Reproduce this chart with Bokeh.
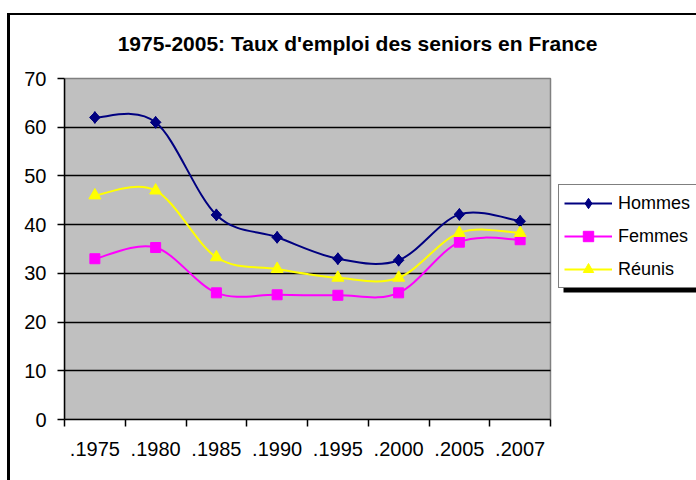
import numpy as np
from bokeh.plotting import figure
from bokeh.layouts import column, row
from bokeh.models import (Range1d, FixedTicker, Legend, LegendItem, Label,
                          BoxAnnotation, ColumnDataSource, Spacer)
from bokeh.embed import file_html
from bokeh.resources import INLINE

# ---- data ----
categories = [".1975", ".1980", ".1985", ".1990", ".1995", ".2000", ".2005", ".2007"]
hommes = [62.0, 61.0, 42.0, 37.4, 33.0, 32.7, 42.1, 40.7]
femmes = [33.0, 35.3, 26.0, 25.6, 25.5, 26.0, 36.4, 36.9]
reunis = [46.0, 47.0, 33.3, 30.9, 29.1, 29.1, 38.3, 38.3]
series_names = ["Hommes", "Femmes", "Réunis"]
y_ticks = [0, 10, 20, 30, 40, 50, 60, 70]
title_text = "1975-2005: Taux d'emploi des seniors en France"

FONT = "Liberation Sans"
W, H = 686, 465    # figure size
ML = 54            # left axis panel
FRAME_H = 404      # frame height (top of figure to x axis)
MB = H - FRAME_H
PLOT_TOP = 63      # top of the grey plot area inside the figure
PLOT_W = 486       # width of the grey plot area
FRAME_W = W - ML
n = len(categories)
y_max = y_ticks[-1]
x_end = n * FRAME_W / PLOT_W
y_end = y_max * FRAME_H / (FRAME_H - PLOT_TOP)

p = figure(width=W, height=H, output_backend="svg", toolbar_location=None,
           x_range=Range1d(0, x_end), y_range=Range1d(0, y_end),
           min_border_left=ML, min_border_right=0,
           min_border_top=0, min_border_bottom=MB)
p.background_fill_color = "white"
p.border_fill_color = "white"
p.outline_line_color = None

# grey plot area
p.quad(left=0, right=n, bottom=0, top=y_max, fill_color="#C0C0C0",
       line_color="#808080", line_width=1.5, level="image")

# x axis: labels centred in categories, ticks on boundaries
centers = [i + 0.5 for i in range(n)]
bounds = [float(i) for i in range(n + 1)]
p.xaxis.bounds = (0, n)
p.xaxis.ticker = FixedTicker(ticks=centers, minor_ticks=bounds)
p.xaxis.major_label_overrides = {c: lab for c, lab in zip(centers, categories)}
p.xaxis.major_tick_line_color = None
p.xaxis.major_tick_out = 0
p.xaxis.major_tick_in = 0
p.xaxis.minor_tick_line_color = "black"
p.xaxis.minor_tick_line_width = 1.5
p.xaxis.minor_tick_out = 7
p.xaxis.minor_tick_in = 0
p.xaxis.major_label_standoff = 15
p.xaxis.axis_line_color = "black"
p.xaxis.axis_line_width = 1.5
p.xaxis.major_label_text_font = FONT
p.xaxis.major_label_text_font_size = "20px"
p.xaxis.major_label_text_color = "black"

p.yaxis.bounds = (0, y_max)
p.yaxis.ticker = FixedTicker(ticks=y_ticks)
p.yaxis.minor_tick_line_color = None
p.yaxis.major_tick_out = 7
p.yaxis.major_tick_in = 0
p.yaxis.major_tick_line_color = "black"
p.yaxis.major_tick_line_width = 1.5
p.yaxis.axis_line_color = "black"
p.yaxis.axis_line_width = 1.5
p.yaxis.major_label_standoff = 11
p.yaxis.major_label_text_font = FONT
p.yaxis.major_label_text_font_size = "20px"
p.yaxis.major_label_text_color = "black"

p.xgrid.grid_line_color = None
p.ygrid.ticker = FixedTicker(ticks=y_ticks[1:-1])
p.ygrid.cross_bounds = (0, n)
p.ygrid.grid_line_color = "black"
p.ygrid.grid_line_width = 1.5


def smooth(xs, ys):
    xs = np.asarray(xs, float)
    ys = np.asarray(ys, float)
    xp = np.concatenate([[xs[0]], xs, [xs[-1]]])
    yp = np.concatenate([[ys[0]], ys, [ys[-1]]])
    tx = (xp[2:] - xp[:-2]) / 6.0
    ty = (yp[2:] - yp[:-2]) / 6.0
    return ColumnDataSource(dict(
        x0=xs[:-1], y0=ys[:-1], x1=xs[1:], y1=ys[1:],
        cx0=xs[:-1] + tx[:-1], cy0=ys[:-1] + ty[:-1],
        cx1=xs[1:] - tx[1:], cy1=ys[1:] - ty[1:]))


series = [
    (hommes, "#000080", [dict(marker="square", angle=np.pi / 4, size=7.5),
                         dict(marker="diamond", size=12)]),
    (femmes, "#FF00FF", [dict(marker="square", size=10)]),
    (reunis, "#FFFF00", [dict(marker="triangle", size=12)]),
]

items = []
for name, (vals, col, markers) in zip(series_names, series):
    r_line = p.bezier(x0="x0", y0="y0", x1="x1", y1="y1",
                      cx0="cx0", cy0="cy0", cx1="cx1", cy1="cy1",
                      source=smooth(centers, vals), line_color=col, line_width=2)
    r_pts = None
    for mk in markers:
        r_pts = p.scatter(centers, vals, fill_color=col, line_color=col, **mk)
    items.append(LegendItem(label=name, renderers=[r_line, r_pts]))

# title
p.add_layout(Label(x=293, y=FRAME_H - 27.5, x_units="screen", y_units="screen",
                   text=title_text, text_font=FONT, text_font_size="21px",
                   text_font_style="bold", text_align="center",
                   text_baseline="middle", text_color="black"))

# legend shadow
p.add_layout(BoxAnnotation(left=499, right=700, top=FRAME_H - 175,
                           bottom=FRAME_H - 277,
                           left_units="screen", right_units="screen",
                           top_units="screen", bottom_units="screen",
                           fill_color="black", fill_alpha=1, line_color=None,
                           line_alpha=0))

legend = Legend(items=items, location=(494, FRAME_H - 273), margin=0, padding=5,
                spacing=7, glyph_width=48, glyph_height=26, label_height=26,
                label_width=90, label_standoff=6,
                label_text_font=FONT, label_text_font_size="18px",
                label_text_color="black",
                border_line_color="black", border_line_width=1,
                background_fill_color="white", background_fill_alpha=1)
p.add_layout(legend)

# outer chart border (top and left edges visible)
top_bar = Spacer(width=W + 3, height=2, styles={"background-color": "black"})
left_bar = Spacer(width=3, height=H, styles={"background-color": "black"})
page = column(Spacer(width=W + 10, height=13),
              row(Spacer(width=7, height=H + 2),
                  column(top_bar, row(left_bar, p))))

open("out.html", "w").write(file_html(page, INLINE))
